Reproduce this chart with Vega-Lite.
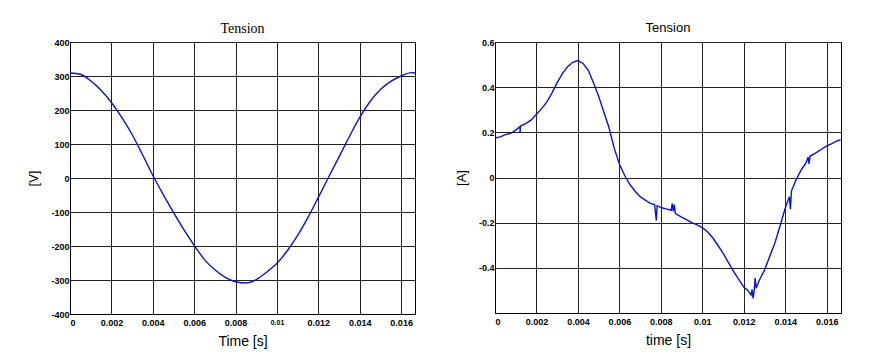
{
  "$schema": "https://vega.github.io/schema/vega-lite/v6.json",
  "background": "white",
  "padding": {"left": 27, "top": 21, "right": 5, "bottom": 5},
  "spacing": 38,
  "datasets": {
    "voltage": [
      {"t": 0, "v": 309}, {"t": 0.0005, "v": 305}, {"t": 0.001, "v": 286}, {"t": 0.0015, "v": 258},
      {"t": 0.002, "v": 222}, {"t": 0.0025, "v": 178}, {"t": 0.003, "v": 128}, {"t": 0.0035, "v": 69},
      {"t": 0.004, "v": 8}, {"t": 0.0045, "v": -48}, {"t": 0.005, "v": -101}, {"t": 0.0055, "v": -152},
      {"t": 0.006, "v": -198}, {"t": 0.0065, "v": -240}, {"t": 0.007, "v": -270}, {"t": 0.0075, "v": -292},
      {"t": 0.008, "v": -305}, {"t": 0.0085, "v": -309}, {"t": 0.009, "v": -299}, {"t": 0.0095, "v": -277},
      {"t": 0.01, "v": -251}, {"t": 0.0105, "v": -214}, {"t": 0.011, "v": -169}, {"t": 0.0115, "v": -116},
      {"t": 0.012, "v": -57}, {"t": 0.0125, "v": 3}, {"t": 0.013, "v": 62}, {"t": 0.0135, "v": 122},
      {"t": 0.014, "v": 178}, {"t": 0.0145, "v": 225}, {"t": 0.015, "v": 260}, {"t": 0.0155, "v": 284},
      {"t": 0.016, "v": 300}, {"t": 0.0165, "v": 310}, {"t": 0.01667, "v": 309}
    ],
    "current": [
      {"t": 0, "a": 0.175}, {"t": 0.00025, "a": 0.18}, {"t": 0.0005, "a": 0.19}, {"t": 0.00075, "a": 0.195},
      {"t": 0.001, "a": 0.21}, {"t": 0.0012, "a": 0.225}, {"t": 0.00121, "a": 0.2}, {"t": 0.00123, "a": 0.228},
      {"t": 0.0015, "a": 0.24}, {"t": 0.00175, "a": 0.255}, {"t": 0.002, "a": 0.28}, {"t": 0.00225, "a": 0.305},
      {"t": 0.0025, "a": 0.335}, {"t": 0.00275, "a": 0.375}, {"t": 0.003, "a": 0.42}, {"t": 0.00325, "a": 0.46},
      {"t": 0.0035, "a": 0.49}, {"t": 0.00375, "a": 0.51}, {"t": 0.004, "a": 0.518}, {"t": 0.00425, "a": 0.505},
      {"t": 0.0045, "a": 0.475}, {"t": 0.00475, "a": 0.42}, {"t": 0.005, "a": 0.36}, {"t": 0.00525, "a": 0.29},
      {"t": 0.0055, "a": 0.22}, {"t": 0.00575, "a": 0.13}, {"t": 0.006, "a": 0.06}, {"t": 0.00625, "a": 0.01},
      {"t": 0.0065, "a": -0.03}, {"t": 0.00675, "a": -0.06}, {"t": 0.007, "a": -0.085}, {"t": 0.00725, "a": -0.1},
      {"t": 0.0075, "a": -0.115}, {"t": 0.0077, "a": -0.12}, {"t": 0.00778, "a": -0.19}, {"t": 0.00782, "a": -0.125},
      {"t": 0.008, "a": -0.133}, {"t": 0.0083, "a": -0.14}, {"t": 0.0085, "a": -0.145}, {"t": 0.00855, "a": -0.115},
      {"t": 0.0086, "a": -0.15}, {"t": 0.00865, "a": -0.12}, {"t": 0.0087, "a": -0.16}, {"t": 0.009, "a": -0.175},
      {"t": 0.0095, "a": -0.2}, {"t": 0.00975, "a": -0.21}, {"t": 0.01, "a": -0.222}, {"t": 0.01025, "a": -0.24},
      {"t": 0.0105, "a": -0.267}, {"t": 0.01075, "a": -0.3}, {"t": 0.011, "a": -0.335}, {"t": 0.01125, "a": -0.375},
      {"t": 0.0115, "a": -0.415}, {"t": 0.01175, "a": -0.45}, {"t": 0.012, "a": -0.485}, {"t": 0.0122, "a": -0.5},
      {"t": 0.01235, "a": -0.52}, {"t": 0.0124, "a": -0.495}, {"t": 0.01245, "a": -0.535}, {"t": 0.0125, "a": -0.505},
      {"t": 0.01255, "a": -0.445}, {"t": 0.0126, "a": -0.49}, {"t": 0.01275, "a": -0.455}, {"t": 0.013, "a": -0.41},
      {"t": 0.01325, "a": -0.35}, {"t": 0.0135, "a": -0.29}, {"t": 0.01375, "a": -0.215}, {"t": 0.014, "a": -0.135},
      {"t": 0.0142, "a": -0.085}, {"t": 0.01425, "a": -0.14}, {"t": 0.0143, "a": -0.06}, {"t": 0.0145, "a": -0.015},
      {"t": 0.01475, "a": 0.03}, {"t": 0.015, "a": 0.065}, {"t": 0.0151, "a": 0.09}, {"t": 0.01515, "a": 0.06},
      {"t": 0.0152, "a": 0.095}, {"t": 0.0155, "a": 0.11}, {"t": 0.01575, "a": 0.125}, {"t": 0.016, "a": 0.14},
      {"t": 0.01625, "a": 0.15}, {"t": 0.0165, "a": 0.162}, {"t": 0.01667, "a": 0.167}
    ]
  },
  "hconcat": [
    {
      "width": 345,
      "height": 272,
      "title": {"text": "Tension", "font": "Liberation Serif", "fontSize": 14, "fontWeight": "normal", "color": "black", "offset": 2},
      "data": {"name": "voltage"},
      "mark": {"type": "line", "color": "#0a14c8", "strokeWidth": 1.4, "clip": true, "interpolate": "monotone"},
      "encoding": {
        "x": {"field": "t", "type": "quantitative",
          "scale": {"domain": [0, 0.01667], "nice": false, "zero": false},
          "axis": {"title": "Time [s]", "values": [0, 0.002, 0.004, 0.006, 0.008, 0.01, 0.012, 0.014, 0.016],
            "labelExpr": "toString(datum.value)",
            "labelFontSize": {"condition": {"test": "datum.value == 0.01", "value": 7}, "value": 9}}},
        "y": {"field": "v", "type": "quantitative",
          "scale": {"domain": [-400, 400], "nice": false},
          "axis": {"title": "[V]", "values": [-400, -300, -200, -100, 0, 100, 200, 300, 400],
            "labelExpr": "toString(datum.value)"}}
      }
    },
    {
      "width": 346,
      "height": 271,
      "title": {"text": "Tension", "font": "Liberation Sans", "fontSize": 13, "fontWeight": "normal", "color": "black", "offset": 3},
      "data": {"name": "current"},
      "mark": {"type": "line", "color": "#0a14c8", "strokeWidth": 1.4, "clip": true},
      "encoding": {
        "x": {"field": "t", "type": "quantitative",
          "scale": {"domain": [0, 0.01669], "nice": false, "zero": false},
          "axis": {"title": "time [s]", "values": [0, 0.002, 0.004, 0.006, 0.008, 0.01, 0.012, 0.014, 0.016],
            "labelExpr": "toString(datum.value)"}},
        "y": {"field": "a", "type": "quantitative",
          "scale": {"domain": [-0.6, 0.6], "nice": false},
          "axis": {"title": "[A]", "values": [-0.4, -0.2, 0, 0.2, 0.4, 0.6],
            "labelExpr": "toString(datum.value)"}}
      }
    }
  ],
  "config": {
    "font": "Liberation Sans",
    "view": {"stroke": "black", "strokeWidth": 1},
    "axis": {
      "grid": true, "gridColor": "#222222", "gridOpacity": 1, "gridWidth": 1,
      "domain": true, "domainColor": "black", "domainWidth": 1,
      "ticks": false,
      "labelFont": "Liberation Sans", "labelFontSize": 9, "labelColor": "black", "labelFontWeight": "bold",
      "titleFont": "Liberation Sans", "titleFontSize": 14, "titleFontWeight": "normal", "titleColor": "black"
    },
    "axisX": {"labelPadding": 4, "titlePadding": 7, "labelFlush": true, "labelOverlap": false},
    "axisY": {"labelPadding": 1, "titlePadding": 10, "titleFontSize": 13, "labelOverlap": false}
  }
}
